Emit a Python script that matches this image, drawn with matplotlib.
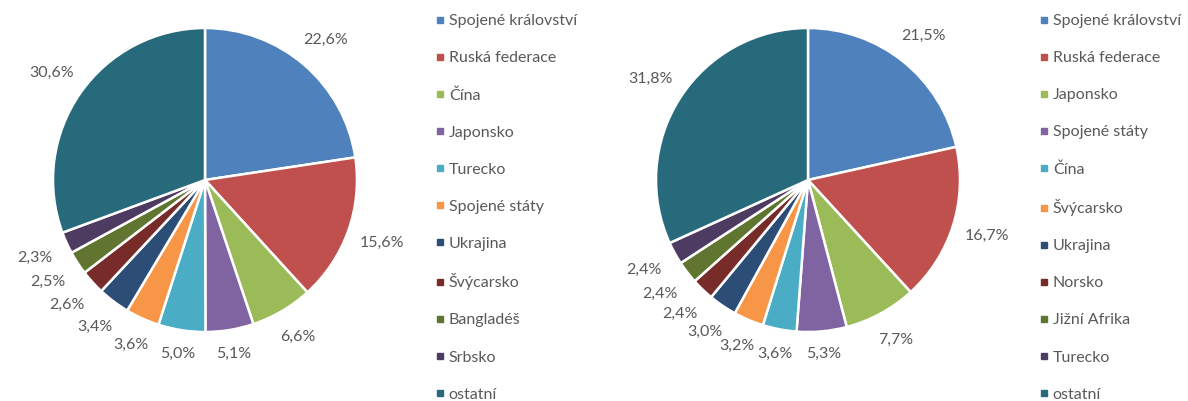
import numpy as np
import matplotlib.pyplot as plt
from matplotlib.lines import Line2D

# ------------------------------------------------------------
# DATA
# ------------------------------------------------------------
left_labels = ["Spojené království", "Ruská federace", "Čína", "Japonsko", "Turecko",
               "Spojené státy", "Ukrajina", "Švýcarsko", "Bangladéš", "Srbsko", "ostatní"]
left_values = [22.6, 15.6, 6.6, 5.1, 5.0, 3.6, 3.4, 2.6, 2.5, 2.3, 30.6]

right_labels = ["Spojené království", "Ruská federace", "Japonsko", "Spojené státy", "Čína",
                "Švýcarsko", "Ukrajina", "Norsko", "Jižní Afrika", "Turecko", "ostatní"]
right_values = [21.5, 16.7, 7.7, 5.3, 3.6, 3.2, 3.0, 2.4, 2.4, 2.4, 31.8]

colors = ["#4F81BD", "#C0504D", "#9BBB59", "#8064A2", "#4BACC6", "#F79646",
          "#2C4D75", "#772C2A", "#5F7530", "#4D3B62", "#276A7C"]

TEXT = "#595959"
FS = 11.5
plt.rcParams["font.family"] = ["Lato", "DejaVu Sans"]

W, H = 1188, 401
fig = plt.figure(figsize=(W / 100, H / 100), dpi=100)


def draw_pie(cx, cy, r, values, labels, legend_x):
    # axes placed so that data radius 1 == r pixels
    ax = fig.add_axes([(cx - r) / W, (H - cy - r) / H, 2 * r / W, 2 * r / H])
    wedges, _, autotexts = ax.pie(
        values, colors=colors, startangle=90, counterclock=False,
        autopct=lambda p: f"{p:.1f}%".replace(".", ","),
        wedgeprops=dict(edgecolor="white", linewidth=1.8),
        textprops=dict(color=TEXT, fontsize=FS))

    # "outside end" labels: gap from the edge plus half the text box
    for w, t in zip(wedges, autotexts):
        ang = np.deg2rad((w.theta1 + w.theta2) / 2)
        dx, dy = np.cos(ang), np.sin(ang)
        dist = 1 + (13 + abs(dx) * 21 + abs(dy) * 8) / r
        t.set_position((dist * dx, dist * dy))
        t.set_clip_on(False)
    ax.set_xlim(-1, 1)
    ax.set_ylim(-1, 1)

    handles = [Line2D([], [], marker="s", linestyle="none", markersize=5,
                      markerfacecolor=c, markeredgecolor=c) for c in colors]
    fig.legend(handles, labels, loc="upper left",
               bbox_to_anchor=(legend_x / W, 1 - 14 / H), frameon=False,
               fontsize=FS, labelcolor=TEXT, handlelength=0.5,
               handletextpad=0.3, labelspacing=1.43, borderpad=0,
               borderaxespad=0)


draw_pie(205, 180, 152, left_values, left_labels, 436)
draw_pie(808, 180, 152, right_values, right_labels, 1040)

fig.savefig("out.png", dpi=100, facecolor="white")
